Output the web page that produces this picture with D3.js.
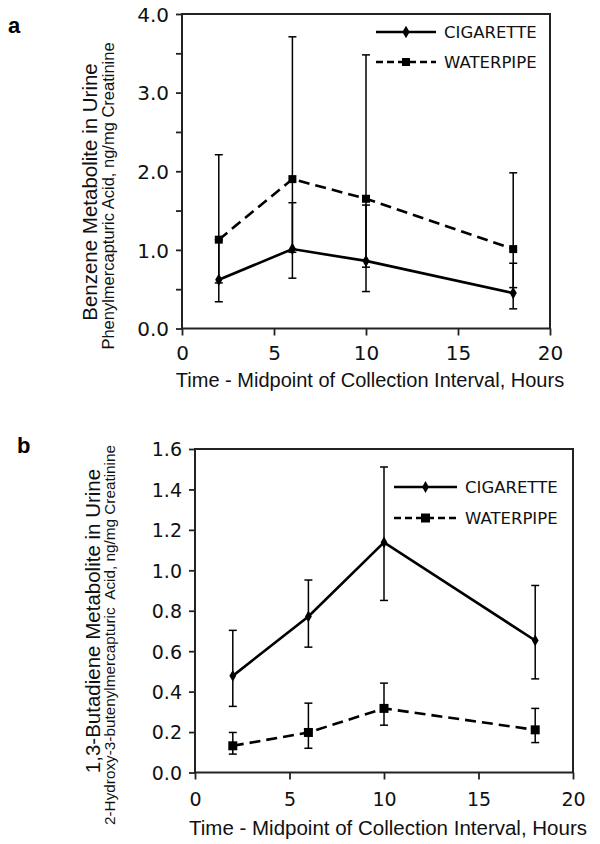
<!DOCTYPE html>
<html><head><meta charset="utf-8">
<script src="https://cdn.jsdelivr.net/npm/d3@7"></script>
<style>
html,body{margin:0;padding:0;background:#fff;}
svg{display:block;}
</style></head><body>
<svg id="chart" width="600" height="844"></svg>
<script>
// ---------- data ----------
const times = [2, 6, 10, 18];
const seriesNames = ["CIGARETTE", "WATERPIPE"];
const xTickValues = [0, 5, 10, 15, 20];
const xTickLabels = ["0", "5", "10", "15", "20"];
const xTitle = "Time - Midpoint of Collection Interval, Hours";

// Panel a: benzene metabolite
const benzeneCigarette     = [0.62, 1.01, 0.86, 0.45];
const benzeneCigaretteHigh = [1.13, 1.60, 1.57, 0.83];
const benzeneCigaretteLow  = [0.34, 0.64, 0.47, 0.25];
const benzeneWaterpipe     = [1.13, 1.90, 1.65, 1.01];
const benzeneWaterpipeHigh = [2.21, 3.71, 3.48, 1.98];
const benzeneWaterpipeLow  = [0.58, 0.97, 0.78, 0.52];
const benzeneYTicks  = [0, 0.5, 1, 1.5, 2, 2.5, 3, 3.5, 4];
const benzeneYLabels = ["0.0", "", "1.0", "", "2.0", "", "3.0", "", "4.0"];
const benzeneTitle = "Benzene Metabolite in Urine";
const benzeneSubtitle = "Phenylmercapturic Acid, ng/mg Creatinine";

// Panel b: 1,3-butadiene metabolite
const butadieneCigarette     = [0.478, 0.772, 1.138, 0.653];
const butadieneCigaretteHigh = [0.703, 0.952, 1.511, 0.925];
const butadieneCigaretteLow  = [0.327, 0.620, 0.851, 0.463];
const butadieneWaterpipe     = [0.132, 0.198, 0.317, 0.211];
const butadieneWaterpipeHigh = [0.198, 0.343, 0.442, 0.317];
const butadieneWaterpipeLow  = [0.091, 0.120, 0.234, 0.148];
const butadieneYTicks  = [0, 0.2, 0.4, 0.6, 0.8, 1.0, 1.2, 1.4, 1.6];
const butadieneYLabels = ["0.0", "0.2", "0.4", "0.6", "0.8", "1.0", "1.2", "1.4", "1.6"];
const butadieneTitle = "1,3-Butadiene Metabolite in Urine";
const butadieneSubtitle = "2-Hydroxy-3-butenylmercapturic  Acid, ng/mg Creatinine";

// ---------- drawing ----------
const svg = d3.select("#chart");
const TICK_FONT = "'DejaVu Sans', Verdana, sans-serif";
const TITLE_FONT = "'Liberation Sans', Arial, Helvetica, sans-serif";

function drawPanel(c) {
  const g = svg.append("g");
  const x = d3.scaleLinear().domain([0, 20]).range([c.left, c.right]);
  const y = d3.scaleLinear().domain([0, c.yMax]).range([c.bottom, c.top]);

  // axes
  const yAxis = d3.axisLeft(y).tickValues(c.yTicks).tickSize(6).tickSizeOuter(0)
    .tickPadding(7).tickFormat((d, i) => c.yLabels[i]);
  const ya = g.append("g").attr("transform", `translate(${c.left},0)`).call(yAxis);
  const xAxis = d3.axisBottom(x).tickValues(xTickValues).tickSize(7).tickSizeOuter(0)
    .tickFormat((d, i) => xTickLabels[i]);
  const xa = g.append("g").attr("transform", `translate(0,${c.bottom})`).call(xAxis);
  [ya, xa].forEach(a => {
    a.select(".domain").remove();
    a.selectAll("line").attr("stroke", "#222").attr("stroke-width", 1.8);
    a.selectAll("text").attr("font-family", TICK_FONT).attr("font-size", c.tickFont)
      .attr("fill", "#111");
  });
  ya.selectAll("text").attr("dy", "0.36em");
  xa.selectAll("text").attr("y", c.xLabelOffset).attr("dy", 0);

  // box
  g.append("rect").attr("x", c.left).attr("y", c.top)
    .attr("width", c.right - c.left).attr("height", c.bottom - c.top)
    .attr("fill", "none").attr("stroke", "#222").attr("stroke-width", 2);

  // error bars
  const series = [
    {name: seriesNames[0], v: c.cig, hi: c.cigHi, lo: c.cigLo, dash: null, sym: d3.symbolDiamond, size: c.diamondSize},
    {name: seriesNames[1], v: c.wp, hi: c.wpHi, lo: c.wpLo, dash: "11,6", sym: d3.symbolSquare, size: c.squareSize}
  ];
  const eb = g.append("g").attr("stroke", "#000").attr("stroke-width", 1.5);
  series.forEach(s => {
    times.forEach((t, i) => {
      eb.append("line").attr("x1", x(t)).attr("x2", x(t)).attr("y1", y(s.lo[i])).attr("y2", y(s.hi[i]));
      [s.lo[i], s.hi[i]].forEach(v => {
        eb.append("line").attr("x1", x(t) - 4).attr("x2", x(t) + 4).attr("y1", y(v)).attr("y2", y(v));
      });
    });
  });

  // lines and markers
  const line = d3.line().x((d, i) => x(times[i])).y(d => y(d));
  series.forEach(s => {
    g.append("path").datum(s.v).attr("d", line).attr("fill", "none")
      .attr("stroke", "#000").attr("stroke-width", 2.6)
      .attr("stroke-dasharray", s.dash);
    g.selectAll(null).data(s.v).enter().append("path")
      .attr("d", d3.symbol().type(s.sym).size(s.size))
      .attr("transform", (d, i) => `translate(${x(times[i])},${y(d)})`)
      .attr("fill", "#000");
  });

  // legend
  series.forEach((s, k) => {
    const ly = c.legendY[k];
    g.append("line").attr("x1", c.legendX1).attr("x2", c.legendX2).attr("y1", ly).attr("y2", ly)
      .attr("stroke", "#000").attr("stroke-width", 2.6)
      .attr("stroke-dasharray", s.dash ? "7,4" : null);
    g.append("path").attr("d", d3.symbol().type(s.sym).size(s.size))
      .attr("transform", `translate(${(c.legendX1 + c.legendX2) / 2},${ly})`).attr("fill", "#000");
    g.append("text").attr("x", c.legendTextX).attr("y", ly).attr("dy", "0.36em")
      .attr("font-family", TICK_FONT).attr("font-size", c.legendFont).attr("fill", "#111")
      .text(s.name);
  });

  // titles
  g.append("text").attr("x", c.xTitleX).attr("y", c.xTitleY).attr("text-anchor", "middle")
    .attr("font-family", TITLE_FONT).attr("font-size", c.xTitleFont).attr("fill", "#111").text(xTitle);
  g.append("text").attr("transform", `translate(${c.yTitleX},${c.yTitleY}) rotate(-90)`)
    .attr("text-anchor", "middle").attr("font-family", TITLE_FONT).attr("font-size", c.yTitleFont)
    .attr("fill", "#111").text(c.title);
  g.append("text").attr("transform", `translate(${c.ySubX},${c.ySubY}) rotate(-90)`)
    .attr("text-anchor", "middle").attr("font-family", TITLE_FONT).attr("font-size", c.ySubFont)
    .attr("fill", "#111").style("white-space", "pre").text(c.subtitle);
  g.append("text").attr("x", c.letterX).attr("y", c.letterY)
    .attr("font-family", TITLE_FONT).attr("font-weight", "bold").attr("font-size", 22)
    .attr("fill", "#000").text(c.letter);
}

drawPanel({
  left: 182, right: 550, top: 14, bottom: 328.5, yMax: 4,
  yTicks: benzeneYTicks, yLabels: benzeneYLabels, tickFont: 20, xLabelOffset: 31.5,
  cig: benzeneCigarette, cigHi: benzeneCigaretteHigh, cigLo: benzeneCigaretteLow,
  wp: benzeneWaterpipe, wpHi: benzeneWaterpipeHigh, wpLo: benzeneWaterpipeLow,
  diamondSize: 45, squareSize: 64,
  legendX1: 376, legendX2: 436, legendTextX: 444, legendY: [32, 62], legendFont: 16.5,
  xTitleX: 370, xTitleY: 387, xTitleFont: 20,
  title: benzeneTitle, yTitleX: 97, yTitleY: 192, yTitleFont: 20.5,
  subtitle: benzeneSubtitle, ySubX: 114, ySubY: 196, ySubFont: 16.5,
  letter: "a", letterX: 8, letterY: 33
});

drawPanel({
  left: 195, right: 573, top: 449, bottom: 772.5, yMax: 1.6,
  yTicks: butadieneYTicks, yLabels: butadieneYLabels, tickFont: 19, xLabelOffset: 33,
  cig: butadieneCigarette, cigHi: butadieneCigaretteHigh, cigLo: butadieneCigaretteLow,
  wp: butadieneWaterpipe, wpHi: butadieneWaterpipeHigh, wpLo: butadieneWaterpipeLow,
  diamondSize: 40, squareSize: 81,
  legendX1: 394, legendX2: 457, legendTextX: 465, legendY: [487, 518], legendFont: 16.5,
  xTitleX: 388, xTitleY: 835, xTitleFont: 20.5,
  title: butadieneTitle, yTitleX: 100, yTitleY: 621, yTitleFont: 20.5,
  subtitle: butadieneSubtitle, ySubX: 115, ySubY: 635, ySubFont: 15.3,
  letter: "b", letterX: 17, letterY: 453
});
</script>
</body></html>
